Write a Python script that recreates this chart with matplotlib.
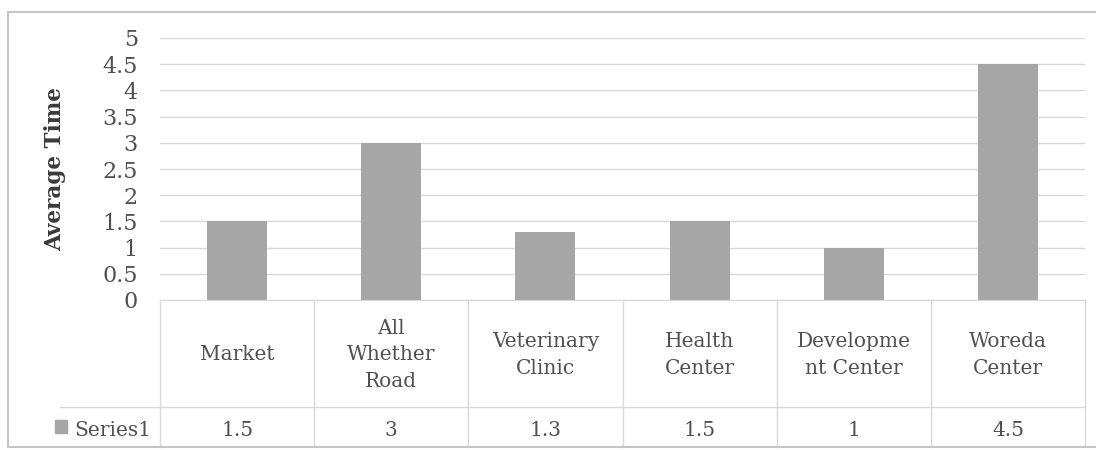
import matplotlib
matplotlib.use("Agg")
import matplotlib.pyplot as plt
from matplotlib.transforms import blended_transform_factory

categories = ["Market", "All\nWhether\nRoad", "Veterinary\nClinic", "Health\nCenter",
              "Developme\nnt Center", "Woreda\nCenter"]
values = [1.5, 3, 1.3, 1.5, 1, 4.5]
value_labels = ["1.5", "3", "1.3", "1.5", "1", "4.5"]
series_name = "Series1"
y_ticks = [0, 0.5, 1, 1.5, 2, 2.5, 3, 3.5, 4, 4.5, 5]
y_tick_labels = ["0", "0.5", "1", "1.5", "2", "2.5", "3", "3.5", "4", "4.5", "5"]
y_label = "Average Time"

W, H = 1101, 450
plt.rcParams["font.family"] = ["DejaVu Serif"]
TEXT = "#505050"
GRID = "#d9d9d9"
BAR = "#a6a6a6"
FS = 14.5

fig = plt.figure(figsize=(W / 100, H / 100), dpi=100)
fig.patch.set_facecolor("white")

# plot area in pixel units
left, right, top, bottom = 160, 1085, 38, 300
ax = fig.add_axes([left / W, 1 - bottom / H, (right - left) / W, (bottom - top) / H])

x = list(range(len(categories)))
ax.bar(x, values, width=0.39, color=BAR, zorder=2)
ax.set_xlim(-0.5, len(categories) - 0.5)
ax.set_ylim(0, 5)
ax.set_yticks(y_ticks)
ax.set_yticklabels(y_tick_labels, fontsize=16, color=TEXT)
ax.tick_params(axis="y", length=0, pad=16)
ax.set_xticks([])
ax.yaxis.grid(True, color=GRID, linewidth=1)
ax.set_axisbelow(True)
for s in ["top", "right", "left"]:
    ax.spines[s].set_visible(False)
ax.spines["bottom"].set_color(GRID)

fig.text(55 / W, 1 - 169 / H, y_label, rotation=90, ha="center", va="center",
         fontsize=15.5, fontweight="bold", color="#3a3a3a")

# data table beneath the plot area
def py(p):
    # convert a pixel row into axes-fraction y
    return (bottom - p) / (bottom - top)

tr = blended_transform_factory(ax.transData, ax.transAxes)
row_div, table_bottom = 407, 447
label_y, value_y = 355, 431

for i in range(len(categories) + 1):
    xb = i - 0.5
    ax.plot([xb, xb], [py(bottom), py(table_bottom)], transform=tr, color=GRID,
            linewidth=1, clip_on=False)
ax.plot([-0.5, len(categories) - 0.5], [py(row_div), py(row_div)], transform=tr,
        color=GRID, linewidth=1, clip_on=False)

for i, (c, v) in enumerate(zip(categories, value_labels)):
    ax.text(i, py(label_y), c, transform=tr, ha="center", va="center",
            fontsize=FS, color=TEXT, linespacing=1.5, clip_on=False)
    ax.text(i, py(value_y), v, transform=tr, ha="center", va="center",
            fontsize=FS, color=TEXT, clip_on=False)

# legend column of the table
fig.lines.append(plt.Line2D([60 / W, left / W], [1 - row_div / H] * 2,
                            transform=fig.transFigure, color=GRID, linewidth=1))
fig.patches.append(plt.Rectangle((55 / W, 1 - 433 / H), 12 / W, 13 / H,
                                 transform=fig.transFigure, color=BAR))
fig.text(74 / W, 1 - value_y / H, series_name, ha="left", va="center",
         fontsize=FS, color=TEXT)

# chart-area border: top, left and bottom edges
BORDER = "#c4c4c4"
fig.lines.append(plt.Line2D([8 / W, 1095 / W], [1 - 12 / H] * 2,
                            transform=fig.transFigure, color=BORDER, linewidth=1.5))
fig.lines.append(plt.Line2D([8 / W, 8 / W], [1 - 12 / H, 1 - 447 / H],
                            transform=fig.transFigure, color=BORDER, linewidth=1.5))
fig.lines.append(plt.Line2D([8 / W, 1095 / W], [1 - 447 / H] * 2,
                            transform=fig.transFigure, color=BORDER, linewidth=1.5))

fig.savefig("out.png", dpi=100)
